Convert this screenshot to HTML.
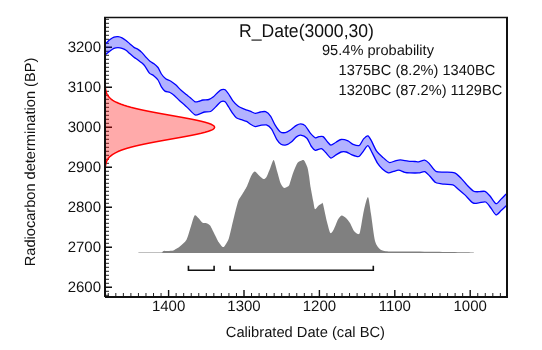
<!DOCTYPE html>
<html><head><meta charset="utf-8">
<style>
html,body{margin:0;padding:0;background:#fff;}
body{width:542px;height:350px;overflow:hidden;position:relative;}
svg{position:absolute;left:0;top:0;will-change:transform;}
text{font-family:"Liberation Sans",sans-serif;fill:#111;text-rendering:geometricPrecision;}
</style></head><body>
<svg width="542" height="350" viewBox="0 0 542 350">
<defs><clipPath id="c"><rect x="105" y="17" width="402" height="280"/></clipPath></defs>
<path d="M106,295.3 h3 M106,291.3 h3 M106,283.3 h3 M106,279.3 h3 M106,275.3 h3 M106,271.3 h3 M106,267.3 h3 M106,263.3 h3 M106,259.3 h3 M106,255.3 h3 M106,251.3 h3 M106,243.3 h3 M106,239.3 h3 M106,235.3 h3 M106,231.3 h3 M106,227.3 h3 M106,223.3 h3 M106,219.3 h3 M106,215.3 h3 M106,211.3 h3 M106,203.3 h3 M106,199.3 h3 M106,195.3 h3 M106,191.3 h3 M106,187.3 h3 M106,183.3 h3 M106,179.3 h3 M106,175.3 h3 M106,171.3 h3 M106,163.3 h3 M106,159.3 h3 M106,155.3 h3 M106,151.3 h3 M106,147.3 h3 M106,143.3 h3 M106,139.3 h3 M106,135.3 h3 M106,131.3 h3 M106,123.3 h3 M106,119.3 h3 M106,115.3 h3 M106,111.3 h3 M106,107.3 h3 M106,103.3 h3 M106,99.3 h3 M106,95.3 h3 M106,91.3 h3 M106,83.3 h3 M106,79.3 h3 M106,75.3 h3 M106,71.3 h3 M106,67.3 h3 M106,63.3 h3 M106,59.3 h3 M106,55.3 h3 M106,51.3 h3 M106,43.3 h3 M106,39.3 h3 M106,35.3 h3 M106,31.3 h3 M106,27.3 h3 M106,23.3 h3 M106,19.3 h3 M500.36,296 v-3 M492.82,296 v-3 M485.28,296 v-3 M477.74,296 v-3 M462.66,296 v-3 M455.12,296 v-3 M447.58,296 v-3 M440.04,296 v-3 M432.5,296 v-3 M424.96,296 v-3 M417.42,296 v-3 M409.88,296 v-3 M402.34,296 v-3 M387.26,296 v-3 M379.72,296 v-3 M372.18,296 v-3 M364.64,296 v-3 M357.1,296 v-3 M349.56,296 v-3 M342.02,296 v-3 M334.48,296 v-3 M326.94,296 v-3 M311.86,296 v-3 M304.32,296 v-3 M296.78,296 v-3 M289.24,296 v-3 M281.7,296 v-3 M274.16,296 v-3 M266.62,296 v-3 M259.08,296 v-3 M251.54,296 v-3 M236.46,296 v-3 M228.92,296 v-3 M221.38,296 v-3 M213.84,296 v-3 M206.3,296 v-3 M198.76,296 v-3 M191.22,296 v-3 M183.68,296 v-3 M176.14,296 v-3 M161.06,296 v-3 M153.52,296 v-3 M145.98,296 v-3 M138.44,296 v-3 M130.9,296 v-3 M123.36,296 v-3 M115.82,296 v-3 M108.28,296 v-3" stroke="#222" stroke-width="1" fill="none"/>
<path d="M106,287.3 h6 M106,247.3 h6 M106,207.3 h6 M106,167.3 h6 M106,127.3 h6 M106,87.3 h6 M106,47.3 h6 M470.2,296 v-6 M394.8,296 v-6 M319.4,296 v-6 M244,296 v-6 M168.6,296 v-6" stroke="#111" stroke-width="1.4" fill="none"/>
<g clip-path="url(#c)">
<path d="M105,44.2C105.12,44.09 105.38,43.88 106,43.3C106.62,42.72 109,40.38 110,39.6C111,38.83 113,37.48 114,37.1C115,36.73 117,36.51 118,36.6C119,36.69 121,37.31 122,37.8C123,38.29 125,39.74 126,40.5C127,41.26 129,43.04 130,43.9C131,44.76 133,46.71 134,47.4C135,48.09 137,48.75 138,49.4C139,50.05 141,51.62 142,52.6C143,53.58 145,56.11 146,57.2C147,58.29 149,60.49 150,61.3C151,62.11 153,62.93 154,63.7C155,64.48 157.07,66.21 158,67.5C158.93,68.79 160.44,72.59 161.4,74C162.36,75.41 164.51,77.9 165.7,78.8C166.89,79.7 169.61,80.41 170.9,81.2C172.19,81.99 174.72,83.96 176,85.1C177.28,86.24 179.81,89.11 181.1,90.3C182.39,91.49 185.19,93.71 186.3,94.6C187.41,95.49 188.9,96.5 190,97.4C191.1,98.3 194.03,101.3 195.1,101.8C196.17,102.3 197.62,101.62 198.6,101.4C199.57,101.18 201.61,100.24 202.9,100C204.19,99.76 207.62,99.86 208.9,99.5C210.18,99.14 211.92,98.05 213.1,97.1C214.28,96.15 217.23,92.83 218.3,91.9C219.38,90.98 220.85,89.98 221.7,89.7C222.55,89.42 224.24,89.16 225.1,89.7C225.96,90.24 227.62,92.6 228.6,94C229.57,95.4 231.72,99.4 232.9,100.9C234.08,102.4 236.5,104.94 238,106C239.5,107.06 243.39,108.76 244.9,109.4C246.41,110.04 248.8,110.6 250.1,111.1C251.4,111.6 254.01,113.29 255.3,113.4C256.59,113.51 259.11,112.21 260.4,112C261.69,111.79 264.31,111.16 265.6,111.7C266.89,112.24 269.52,114.65 270.7,116.3C271.88,117.95 273.82,122.98 275,124.9C276.18,126.83 278.81,130.74 280.1,131.7C281.39,132.66 284.01,132.81 285.3,132.6C286.59,132.39 289.01,130.9 290.4,130C291.79,129.1 295.11,126.16 296.4,125.4C297.69,124.64 299.61,123.88 300.7,123.9C301.79,123.93 303.9,124.45 305.1,125.6C306.3,126.75 309.01,131.57 310.3,133.1C311.59,134.62 314.32,137.36 315.4,137.8C316.47,138.24 317.94,136.75 318.9,136.6C319.86,136.45 322.04,135.96 323.1,136.6C324.16,137.24 326.42,140.64 327.4,141.7C328.38,142.76 329.82,145.04 330.9,145.1C331.97,145.16 334.73,142.9 336,142.2C337.27,141.5 339.6,139.66 341.1,139.5C342.6,139.34 346.5,140.3 348,140.9C349.5,141.5 351.69,143.73 353.1,144.3C354.51,144.88 357.99,146.18 359.3,145.5C360.61,144.82 362.53,140.11 363.6,138.9C364.68,137.69 366.94,135.59 367.9,135.8C368.86,136.01 370.24,138.71 371.3,140.6C372.36,142.49 375.01,148.86 376.4,150.9C377.79,152.94 380.79,155.45 382.4,156.9C384.01,158.35 387.69,162.01 389.3,162.5C390.91,162.99 393.91,161.12 395.3,160.8C396.69,160.48 398.8,159.86 400.4,159.9C402,159.94 406.28,160.9 408.1,161.1C409.93,161.3 413.69,161.4 415,161.5C416.31,161.6 417.4,162.06 418.6,161.9C419.8,161.74 423.31,160.05 424.6,160.2C425.89,160.35 427.51,161.72 428.9,163.1C430.29,164.47 433.77,170.07 435.7,171.2C437.62,172.32 441.94,171.89 444.3,172.1C446.66,172.31 452.46,172.09 454.6,172.9C456.74,173.71 459.86,177.1 461.4,178.6C462.94,180.1 465.36,183.33 466.9,184.9C468.44,186.47 472.2,190.35 473.7,191.2C475.2,192.05 477.5,191.67 478.9,191.7C480.3,191.72 483.51,190.86 484.9,191.4C486.29,191.94 488.61,194.46 490,196C491.39,197.54 494.61,203.31 496,203.7C497.39,204.09 499.85,200.27 501.1,199.1C502.35,197.93 505.14,195.12 506,194.3C506.86,193.48 507.75,192.72 508,192.5 L508,204C507.75,204.25 506.86,205.18 506,206C505.14,206.82 502.35,209.49 501.1,210.6C499.85,211.71 497.27,215.22 496,214.9C494.73,214.58 492.19,209.61 490.9,208C489.61,206.39 487.2,202.64 485.7,202C484.2,201.36 480.5,202.79 478.9,202.9C477.3,203.01 474.65,203.9 472.9,202.9C471.15,201.9 466.76,196.65 464.9,194.9C463.04,193.15 459.5,190.15 458,188.9C456.5,187.65 454.61,185.49 452.9,184.9C451.19,184.31 446.45,184.5 444.3,184.2C442.15,183.9 437.52,183.53 435.7,182.5C433.88,181.47 431.09,177.35 429.7,176C428.31,174.65 425.99,172.09 424.6,171.7C423.21,171.31 420.43,172.75 418.6,172.9C416.78,173.05 411.74,172.97 410,172.9C408.26,172.83 406.11,172.64 404.7,172.3C403.29,171.96 400.09,170.31 398.7,170.2C397.31,170.09 394.89,171.07 393.6,171.4C392.31,171.73 389.8,173.11 388.4,172.8C387,172.49 383.79,170.14 382.4,168.9C381.01,167.66 378.59,164.94 377.3,162.9C376.01,160.86 373.28,154.75 372.1,152.6C370.93,150.45 368.96,145.91 367.9,145.7C366.84,145.49 364.68,149.57 363.6,150.9C362.53,152.23 360.18,155.61 359.3,156.3C358.43,156.99 357.59,156.61 356.6,156.4C355.61,156.19 352.69,155.15 351.4,154.6C350.11,154.05 347.59,152.32 346.3,152C345.01,151.68 342.39,151.64 341.1,152C339.81,152.36 337.27,154.15 336,154.9C334.73,155.65 332.19,158.3 330.9,158C329.61,157.7 326.89,153.68 325.7,152.5C324.51,151.32 322.69,148.88 321.4,148.6C320.11,148.32 316.69,150.62 315.4,150.3C314.11,149.98 312.16,147.5 311.1,146C310.04,144.5 308.2,139.65 306.9,138.3C305.6,136.95 302.01,135.38 300.7,135.2C299.39,135.02 297.57,136.05 296.4,136.9C295.22,137.75 292.59,141 291.3,142C290.01,143 287.39,144.62 286.1,144.9C284.81,145.18 282.18,144.89 281,144.2C279.82,143.51 277.88,141.29 276.7,139.4C275.52,137.51 272.89,130.91 271.6,129.1C270.31,127.29 267.8,125.36 266.4,124.9C265,124.44 261.79,125.19 260.4,125.4C259.01,125.61 256.59,126.77 255.3,126.6C254.01,126.42 251.19,124.65 250.1,124C249.01,123.35 247.69,121.94 246.6,121.4C245.51,120.86 242.69,120.16 241.4,119.7C240.11,119.24 237.36,118.45 236.3,117.7C235.24,116.95 233.86,115.05 232.9,113.7C231.94,112.35 229.57,108.4 228.6,106.9C227.62,105.4 226.06,102.35 225.1,101.7C224.14,101.05 222.08,101.05 220.9,101.7C219.72,102.35 216.99,105.68 215.7,106.9C214.41,108.12 211.99,110.86 210.6,111.5C209.21,112.14 205.89,111.72 204.6,112C203.31,112.28 201.49,113.34 200.3,113.7C199.11,114.06 196.53,115.48 195.1,114.9C193.67,114.33 190.21,110.35 188.9,109.1C187.59,107.85 185.79,105.96 184.6,104.9C183.41,103.84 180.69,101.79 179.4,100.6C178.11,99.41 175.48,96.41 174.3,95.4C173.12,94.39 171.18,93.04 170,92.5C168.82,91.96 165.97,91.8 164.9,91.1C163.83,90.4 162.26,88.29 161.4,86.9C160.54,85.51 158.96,81.4 158,80C157.04,78.6 154.77,76.56 153.7,75.7C152.62,74.84 150.47,74.27 149.4,73.1C148.33,71.92 146.03,67.55 145.1,66.3C144.17,65.05 142.89,63.89 142,63.1C141.11,62.31 139,60.74 138,60C137,59.26 135,57.98 134,57.2C133,56.43 131,54.66 130,53.8C129,52.94 127,50.99 126,50.3C125,49.61 123,48.62 122,48.3C121,47.97 119,47.7 118,47.7C117,47.7 115,47.9 114,48.3C113,48.7 111,50.16 110,50.9C109,51.64 106.62,53.69 106,54.2C105.38,54.71 105.12,54.9 105,55 Z" fill="#0000ff" fill-opacity="0.3" stroke="none"/>
<path d="M105,44.2C105.12,44.09 105.38,43.88 106,43.3C106.62,42.72 109,40.38 110,39.6C111,38.83 113,37.48 114,37.1C115,36.73 117,36.51 118,36.6C119,36.69 121,37.31 122,37.8C123,38.29 125,39.74 126,40.5C127,41.26 129,43.04 130,43.9C131,44.76 133,46.71 134,47.4C135,48.09 137,48.75 138,49.4C139,50.05 141,51.62 142,52.6C143,53.58 145,56.11 146,57.2C147,58.29 149,60.49 150,61.3C151,62.11 153,62.93 154,63.7C155,64.48 157.07,66.21 158,67.5C158.93,68.79 160.44,72.59 161.4,74C162.36,75.41 164.51,77.9 165.7,78.8C166.89,79.7 169.61,80.41 170.9,81.2C172.19,81.99 174.72,83.96 176,85.1C177.28,86.24 179.81,89.11 181.1,90.3C182.39,91.49 185.19,93.71 186.3,94.6C187.41,95.49 188.9,96.5 190,97.4C191.1,98.3 194.03,101.3 195.1,101.8C196.17,102.3 197.62,101.62 198.6,101.4C199.57,101.18 201.61,100.24 202.9,100C204.19,99.76 207.62,99.86 208.9,99.5C210.18,99.14 211.92,98.05 213.1,97.1C214.28,96.15 217.23,92.83 218.3,91.9C219.38,90.98 220.85,89.98 221.7,89.7C222.55,89.42 224.24,89.16 225.1,89.7C225.96,90.24 227.62,92.6 228.6,94C229.57,95.4 231.72,99.4 232.9,100.9C234.08,102.4 236.5,104.94 238,106C239.5,107.06 243.39,108.76 244.9,109.4C246.41,110.04 248.8,110.6 250.1,111.1C251.4,111.6 254.01,113.29 255.3,113.4C256.59,113.51 259.11,112.21 260.4,112C261.69,111.79 264.31,111.16 265.6,111.7C266.89,112.24 269.52,114.65 270.7,116.3C271.88,117.95 273.82,122.98 275,124.9C276.18,126.83 278.81,130.74 280.1,131.7C281.39,132.66 284.01,132.81 285.3,132.6C286.59,132.39 289.01,130.9 290.4,130C291.79,129.1 295.11,126.16 296.4,125.4C297.69,124.64 299.61,123.88 300.7,123.9C301.79,123.93 303.9,124.45 305.1,125.6C306.3,126.75 309.01,131.57 310.3,133.1C311.59,134.62 314.32,137.36 315.4,137.8C316.47,138.24 317.94,136.75 318.9,136.6C319.86,136.45 322.04,135.96 323.1,136.6C324.16,137.24 326.42,140.64 327.4,141.7C328.38,142.76 329.82,145.04 330.9,145.1C331.97,145.16 334.73,142.9 336,142.2C337.27,141.5 339.6,139.66 341.1,139.5C342.6,139.34 346.5,140.3 348,140.9C349.5,141.5 351.69,143.73 353.1,144.3C354.51,144.88 357.99,146.18 359.3,145.5C360.61,144.82 362.53,140.11 363.6,138.9C364.68,137.69 366.94,135.59 367.9,135.8C368.86,136.01 370.24,138.71 371.3,140.6C372.36,142.49 375.01,148.86 376.4,150.9C377.79,152.94 380.79,155.45 382.4,156.9C384.01,158.35 387.69,162.01 389.3,162.5C390.91,162.99 393.91,161.12 395.3,160.8C396.69,160.48 398.8,159.86 400.4,159.9C402,159.94 406.28,160.9 408.1,161.1C409.93,161.3 413.69,161.4 415,161.5C416.31,161.6 417.4,162.06 418.6,161.9C419.8,161.74 423.31,160.05 424.6,160.2C425.89,160.35 427.51,161.72 428.9,163.1C430.29,164.47 433.77,170.07 435.7,171.2C437.62,172.32 441.94,171.89 444.3,172.1C446.66,172.31 452.46,172.09 454.6,172.9C456.74,173.71 459.86,177.1 461.4,178.6C462.94,180.1 465.36,183.33 466.9,184.9C468.44,186.47 472.2,190.35 473.7,191.2C475.2,192.05 477.5,191.67 478.9,191.7C480.3,191.72 483.51,190.86 484.9,191.4C486.29,191.94 488.61,194.46 490,196C491.39,197.54 494.61,203.31 496,203.7C497.39,204.09 499.85,200.27 501.1,199.1C502.35,197.93 505.14,195.12 506,194.3C506.86,193.48 507.75,192.72 508,192.5" fill="none" stroke="#0000ff" stroke-width="1.3"/>
<path d="M105,55C105.12,54.9 105.38,54.71 106,54.2C106.62,53.69 109,51.64 110,50.9C111,50.16 113,48.7 114,48.3C115,47.9 117,47.7 118,47.7C119,47.7 121,47.97 122,48.3C123,48.62 125,49.61 126,50.3C127,50.99 129,52.94 130,53.8C131,54.66 133,56.43 134,57.2C135,57.98 137,59.26 138,60C139,60.74 141.11,62.31 142,63.1C142.89,63.89 144.17,65.05 145.1,66.3C146.03,67.55 148.33,71.92 149.4,73.1C150.47,74.27 152.62,74.84 153.7,75.7C154.77,76.56 157.04,78.6 158,80C158.96,81.4 160.54,85.51 161.4,86.9C162.26,88.29 163.83,90.4 164.9,91.1C165.97,91.8 168.82,91.96 170,92.5C171.18,93.04 173.12,94.39 174.3,95.4C175.48,96.41 178.11,99.41 179.4,100.6C180.69,101.79 183.41,103.84 184.6,104.9C185.79,105.96 187.59,107.85 188.9,109.1C190.21,110.35 193.67,114.33 195.1,114.9C196.53,115.48 199.11,114.06 200.3,113.7C201.49,113.34 203.31,112.28 204.6,112C205.89,111.72 209.21,112.14 210.6,111.5C211.99,110.86 214.41,108.12 215.7,106.9C216.99,105.68 219.72,102.35 220.9,101.7C222.08,101.05 224.14,101.05 225.1,101.7C226.06,102.35 227.62,105.4 228.6,106.9C229.57,108.4 231.94,112.35 232.9,113.7C233.86,115.05 235.24,116.95 236.3,117.7C237.36,118.45 240.11,119.24 241.4,119.7C242.69,120.16 245.51,120.86 246.6,121.4C247.69,121.94 249.01,123.35 250.1,124C251.19,124.65 254.01,126.42 255.3,126.6C256.59,126.77 259.01,125.61 260.4,125.4C261.79,125.19 265,124.44 266.4,124.9C267.8,125.36 270.31,127.29 271.6,129.1C272.89,130.91 275.52,137.51 276.7,139.4C277.88,141.29 279.82,143.51 281,144.2C282.18,144.89 284.81,145.18 286.1,144.9C287.39,144.62 290.01,143 291.3,142C292.59,141 295.22,137.75 296.4,136.9C297.57,136.05 299.39,135.02 300.7,135.2C302.01,135.38 305.6,136.95 306.9,138.3C308.2,139.65 310.04,144.5 311.1,146C312.16,147.5 314.11,149.98 315.4,150.3C316.69,150.62 320.11,148.32 321.4,148.6C322.69,148.88 324.51,151.32 325.7,152.5C326.89,153.68 329.61,157.7 330.9,158C332.19,158.3 334.73,155.65 336,154.9C337.27,154.15 339.81,152.36 341.1,152C342.39,151.64 345.01,151.68 346.3,152C347.59,152.32 350.11,154.05 351.4,154.6C352.69,155.15 355.61,156.19 356.6,156.4C357.59,156.61 358.43,156.99 359.3,156.3C360.18,155.61 362.53,152.23 363.6,150.9C364.68,149.57 366.84,145.49 367.9,145.7C368.96,145.91 370.93,150.45 372.1,152.6C373.28,154.75 376.01,160.86 377.3,162.9C378.59,164.94 381.01,167.66 382.4,168.9C383.79,170.14 387,172.49 388.4,172.8C389.8,173.11 392.31,171.73 393.6,171.4C394.89,171.07 397.31,170.09 398.7,170.2C400.09,170.31 403.29,171.96 404.7,172.3C406.11,172.64 408.26,172.83 410,172.9C411.74,172.97 416.78,173.05 418.6,172.9C420.43,172.75 423.21,171.31 424.6,171.7C425.99,172.09 428.31,174.65 429.7,176C431.09,177.35 433.88,181.47 435.7,182.5C437.52,183.53 442.15,183.9 444.3,184.2C446.45,184.5 451.19,184.31 452.9,184.9C454.61,185.49 456.5,187.65 458,188.9C459.5,190.15 463.04,193.15 464.9,194.9C466.76,196.65 471.15,201.9 472.9,202.9C474.65,203.9 477.3,203.01 478.9,202.9C480.5,202.79 484.2,201.36 485.7,202C487.2,202.64 489.61,206.39 490.9,208C492.19,209.61 494.73,214.58 496,214.9C497.27,215.22 499.85,211.71 501.1,210.6C502.35,209.49 505.14,206.82 506,206C506.86,205.18 507.75,204.25 508,204" fill="none" stroke="#0000ff" stroke-width="1.3"/>
<path d="M105.33,87.3 L105.44,88.3 L105.59,89.3 L105.77,90.3 L106,91.3 L106.3,92.3 L106.67,93.3 L107.12,94.3 L107.69,95.3 L108.38,96.3 L109.21,97.3 L110.21,98.3 L111.41,99.3 L112.82,100.3 L114.48,101.3 L116.4,102.3 L118.61,103.3 L121.14,104.3 L123.99,105.3 L127.19,106.3 L130.74,107.3 L134.65,108.3 L138.9,109.3 L143.48,110.3 L148.37,111.3 L153.52,112.3 L158.89,113.3 L164.43,114.3 L170.06,115.3 L175.71,116.3 L181.3,117.3 L186.74,118.3 L191.93,119.3 L196.78,120.3 L201.2,121.3 L205.11,122.3 L208.43,123.3 L211.09,124.3 L213.02,125.3 L214.2,126.3 L214.6,127.3 L214.2,128.3 L213.02,129.3 L211.09,130.3 L208.43,131.3 L205.11,132.3 L201.2,133.3 L196.78,134.3 L191.93,135.3 L186.74,136.3 L181.3,137.3 L175.71,138.3 L170.06,139.3 L164.43,140.3 L158.89,141.3 L153.52,142.3 L148.37,143.3 L143.48,144.3 L138.9,145.3 L134.65,146.3 L130.74,147.3 L127.19,148.3 L123.99,149.3 L121.14,150.3 L118.61,151.3 L116.4,152.3 L114.48,153.3 L112.82,154.3 L111.41,155.3 L110.21,156.3 L109.21,157.3 L108.38,158.3 L107.69,159.3 L107.12,160.3 L106.67,161.3 L106.3,162.3 L106,163.3 L105.77,164.3 L105.59,165.3 L105.44,166.3 L105.33,167.3 L105,167.3 L105,87.3 Z" fill="#ff0000" fill-opacity="0.333" stroke="none"/>
<path d="M105.33,87.3 L105.44,88.3 L105.59,89.3 L105.77,90.3 L106,91.3 L106.3,92.3 L106.67,93.3 L107.12,94.3 L107.69,95.3 L108.38,96.3 L109.21,97.3 L110.21,98.3 L111.41,99.3 L112.82,100.3 L114.48,101.3 L116.4,102.3 L118.61,103.3 L121.14,104.3 L123.99,105.3 L127.19,106.3 L130.74,107.3 L134.65,108.3 L138.9,109.3 L143.48,110.3 L148.37,111.3 L153.52,112.3 L158.89,113.3 L164.43,114.3 L170.06,115.3 L175.71,116.3 L181.3,117.3 L186.74,118.3 L191.93,119.3 L196.78,120.3 L201.2,121.3 L205.11,122.3 L208.43,123.3 L211.09,124.3 L213.02,125.3 L214.2,126.3 L214.6,127.3 L214.2,128.3 L213.02,129.3 L211.09,130.3 L208.43,131.3 L205.11,132.3 L201.2,133.3 L196.78,134.3 L191.93,135.3 L186.74,136.3 L181.3,137.3 L175.71,138.3 L170.06,139.3 L164.43,140.3 L158.89,141.3 L153.52,142.3 L148.37,143.3 L143.48,144.3 L138.9,145.3 L134.65,146.3 L130.74,147.3 L127.19,148.3 L123.99,149.3 L121.14,150.3 L118.61,151.3 L116.4,152.3 L114.48,153.3 L112.82,154.3 L111.41,155.3 L110.21,156.3 L109.21,157.3 L108.38,158.3 L107.69,159.3 L107.12,160.3 L106.67,161.3 L106.3,162.3 L106,163.3 L105.77,164.3 L105.59,165.3 L105.44,166.3 L105.33,167.3" fill="none" stroke="#ff0000" stroke-width="1.5"/>
<path d="M138.4,252.5C141.28,252.49 158.33,252.56 161.4,252.4C164.47,252.24 161.62,251.4 163,251.2C164.38,251 170.9,251 172.4,250.8C173.9,250.6 174.07,250.14 175,249.6C175.93,249.06 178.36,247.72 179.8,246.5C181.24,245.28 185.11,242.29 186.5,239.8C187.89,237.31 189.89,229.64 190.9,226.6C191.91,223.56 193.64,216.55 194.6,215.5C195.56,214.45 197.6,217.29 198.6,218.2C199.6,219.11 201.62,222.18 202.6,222.8C203.57,223.43 205.46,222.86 206.4,223.2C207.34,223.54 209.14,224.25 210.1,225.5C211.06,226.75 213.04,231.12 214.1,233.2C215.16,235.27 217.61,240.45 218.6,242.1C219.59,243.75 221.29,245.86 222,246.4C222.71,246.94 223.45,247.4 224.3,246.4C225.15,245.4 227.74,241.45 228.8,238.4C229.86,235.35 231.96,225.43 232.8,222C233.64,218.57 234.8,213.69 235.5,211C236.2,208.31 237.7,202.36 238.4,200.5C239.1,198.64 240.01,197.92 241.1,196.1C242.19,194.28 245.81,188.46 247.1,185.9C248.39,183.34 250.43,177.39 251.4,175.6C252.38,173.81 253.94,171.6 254.9,171.6C255.86,171.6 258.04,174.67 259.1,175.6C260.16,176.53 262.5,178.79 263.4,179C264.3,179.21 265.44,178.69 266.3,177.3C267.16,175.91 269.38,170.05 270.3,167.9C271.23,165.75 272.85,159.67 273.7,160.1C274.55,160.53 276.24,168.4 277.1,171.3C277.96,174.2 279.74,181.23 280.6,183.3C281.46,185.38 283.15,187.48 284,187.9C284.85,188.32 286.74,187.05 287.4,186.7C288.06,186.35 288.64,186.69 289.3,185.1C289.96,183.51 291.74,176.68 292.7,174C293.66,171.32 296.04,165.31 297,163.7C297.96,162.09 299.54,161.52 300.4,161.1C301.26,160.68 303.04,159.55 303.9,160.3C304.76,161.05 306.66,165.18 307.3,167.1C307.94,169.02 308.57,173.12 309,175.7C309.43,178.27 310.16,184.49 310.7,187.7C311.24,190.91 312.76,198.72 313.3,201.4C313.84,204.08 314.36,208.56 315,209.1C315.64,209.64 317.54,206.4 318.4,205.7C319.26,205 321.32,203.71 321.9,203.5C322.47,203.29 322.36,201.69 323,204C323.64,206.31 326.07,218.38 327,222C327.93,225.62 329.52,232.12 330.4,233C331.27,233.88 333.05,230.68 334,229C334.95,227.32 337.05,221.28 338,219.6C338.95,217.92 340.6,215.8 341.6,215.6C342.6,215.4 344.95,217.07 346,218C347.05,218.93 349,221.38 350,223C351,224.62 353,229.62 354,231C355,232.38 357.25,233.88 358,234C358.75,234.12 359.25,235 360,232C360.75,229 363,214.38 364,210C365,205.62 367.12,196.5 368,197C368.88,197.5 370.12,208.5 371,214C371.88,219.5 373.88,236.6 375,241C376.12,245.4 378.62,247.92 380,249.2C381.38,250.47 383.5,250.9 386,251.2C388.5,251.5 394.15,251.52 400,251.6C405.85,251.68 423.57,251.69 432.8,251.8C442.03,251.91 468.68,252.41 473.8,252.5 L473.8,253 L138.4,253 Z" fill="#808080" stroke="none"/>
</g>
<path d="M105,297 V17.4 M507,17.4 V297 H105" fill="none" stroke="#111" stroke-width="2"/>
<path d="M104,17.4 H508" fill="none" stroke="#111" stroke-width="1.5"/>
<path d="M188.45,265.7 V270.2 H214.1 V265.7 M230.1,265.7 V270.2 H373.3 V265.7" fill="none" stroke="#111" stroke-width="1.6"/>
<g font-size="15">
<text transform="translate(101,52) scale(1,1)" text-anchor="end">3200</text>
<text transform="translate(101,92) scale(1,1)" text-anchor="end">3100</text>
<text transform="translate(101,132) scale(1,1)" text-anchor="end">3000</text>
<text transform="translate(101,172) scale(1,1)" text-anchor="end">2900</text>
<text transform="translate(101,212) scale(1,1)" text-anchor="end">2800</text>
<text transform="translate(101,252) scale(1,1)" text-anchor="end">2700</text>
<text transform="translate(101,292) scale(1,1)" text-anchor="end">2600</text>
<text transform="translate(168.6,311) scale(1,1)" text-anchor="middle">1400</text>
<text transform="translate(244,311) scale(1,1)" text-anchor="middle">1300</text>
<text transform="translate(319.4,311) scale(1,1)" text-anchor="middle">1200</text>
<text transform="translate(394.8,311) scale(1,1)" text-anchor="middle">1100</text>
<text transform="translate(470.2,311) scale(1,1)" text-anchor="middle">1000</text>
<text transform="translate(305.4,337.2) scale(1,1)" text-anchor="middle" font-size="14.7">Calibrated Date (cal BC)</text>
<text transform="translate(35,162) rotate(-90) scale(1,1)" text-anchor="middle" font-size="14.6">Radiocarbon determination (BP)</text>
</g>
<text transform="translate(239,36.8) scale(1,1.05)" font-size="17.6">R_Date(3000,30)</text>
<g font-size="14.6">
<text transform="translate(322,55.3) scale(1,1)" >95.4% probability</text>
<text transform="translate(338.6,74.8) scale(1,1)" >1375BC (8.2%) 1340BC</text>
<text transform="translate(338.6,94.7) scale(1,1)" >1320BC (87.2%) 1129BC</text>
</g>
</svg>
</body></html>
